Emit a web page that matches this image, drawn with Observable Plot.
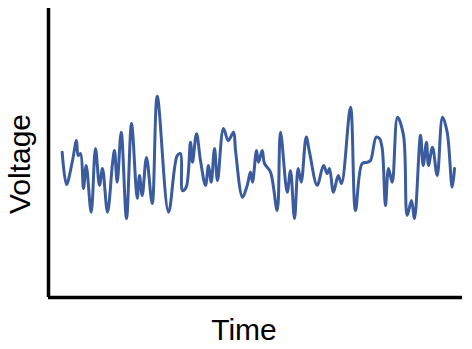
<!DOCTYPE html>
<html>
<head>
<meta charset="utf-8">
<script src="https://cdn.jsdelivr.net/npm/d3@7"></script>
<script src="https://cdn.jsdelivr.net/npm/@observablehq/plot@0.6"></script>
<style>
  html, body { margin: 0; padding: 0; background: #fff; }
  #chart svg { display: block; }
</style>
</head>
<body>
<div id="chart"></div>
<script>
const time = [3.3,4.35,5.72,6.76,7.17,7.73,8.45,9.11,10.31,11.35,12.32,13.04,14.25,15.46,15.94,16.59,17.56,18.84,20.05,21.43,21.98,22.63,23.67,25.05,26.26,28.99,31.09,31.88,32.37,33.26,34.30,34.78,35.75,36.71,37.92,38.65,39.30,40.10,40.82,42.27,43.41,44.69,45.17,46.86,48.0,48.79,49.28,50.24,50.72,51.62,52.17,53.62,55.24,56.04,57.66,58.45,59.42,60.31,61.04,62.25,63.04,64.90,66.43,67.32,67.87,68.84,69.98,70.77,72.95,74.15,75.77,76.98,77.78,79.15,79.95,80.60,81.40,82.13,83.02,84.30,85.75,86.64,87.68,88.41,89.86,90.51,91.30,91.79,92.75,93.89,95.17,96.30,97.51,98.07];
const voltage = [5.03,3.91,4.68,5.43,4.91,4.98,3.77,4.57,2.95,5.16,3.88,4.46,2.95,4.64,5.09,3.99,5.72,2.73,6.02,3.43,4.22,3.53,4.84,3.25,6.96,2.95,4.91,4.98,3.70,3.82,5.37,4.68,5.67,4.74,3.88,4.57,3.99,5.16,4.05,5.85,5.43,5.72,5.09,3.47,3.88,4.34,3.99,5.09,4.68,5.09,4.64,4.34,3.01,5.72,3.64,4.39,2.73,4.46,3.99,5.55,5.03,3.88,4.57,4.29,4.46,3.64,4.22,3.94,6.58,3.01,4.64,4.68,4.74,5.55,5.50,5.16,3.18,4.46,3.99,6.24,5.61,2.84,3.36,2.73,5.61,4.57,5.37,4.57,5.20,4.22,6.24,5.72,3.82,4.46];
const timeDomain = [0, 100];
const voltageDomain = [0, 10];
const xLabel = "Time";
const yLabel = "Voltage";

const data = time.map((t, i) => ({t, v: voltage[i]}));

const chart = Plot.plot({
  width: 472,
  height: 349,
  marginLeft: 48,
  marginRight: 10,
  marginTop: 8,
  marginBottom: 52,
  style: {fontFamily: "'Liberation Sans', Arial, sans-serif", background: "#fff"},
  x: {domain: timeDomain, axis: null},
  y: {domain: voltageDomain, axis: null},
  marks: [
    Plot.text([xLabel], {text: d => d, frameAnchor: "bottom", textAnchor: "middle", lineAnchor: "middle", fontSize: 30, fill: "#000", dx: -11.5, dy: 33}),
    Plot.text([yLabel], {text: d => d, frameAnchor: "left", textAnchor: "middle", lineAnchor: "middle", rotate: -90, fontSize: 30, fill: "#000", dx: -28, dy: 11}),
    Plot.line(data, {x: "t", y: "v", stroke: "#3b5b9f", strokeWidth: 3, curve: "catmull-rom"}),
    Plot.ruleX([timeDomain[0]], {stroke: "#000", strokeWidth: 3.5}),
    Plot.ruleY([voltageDomain[0]], {stroke: "#000", strokeWidth: 3.5})
  ]
});
document.getElementById("chart").appendChild(chart);
</script>
</body>
</html>
